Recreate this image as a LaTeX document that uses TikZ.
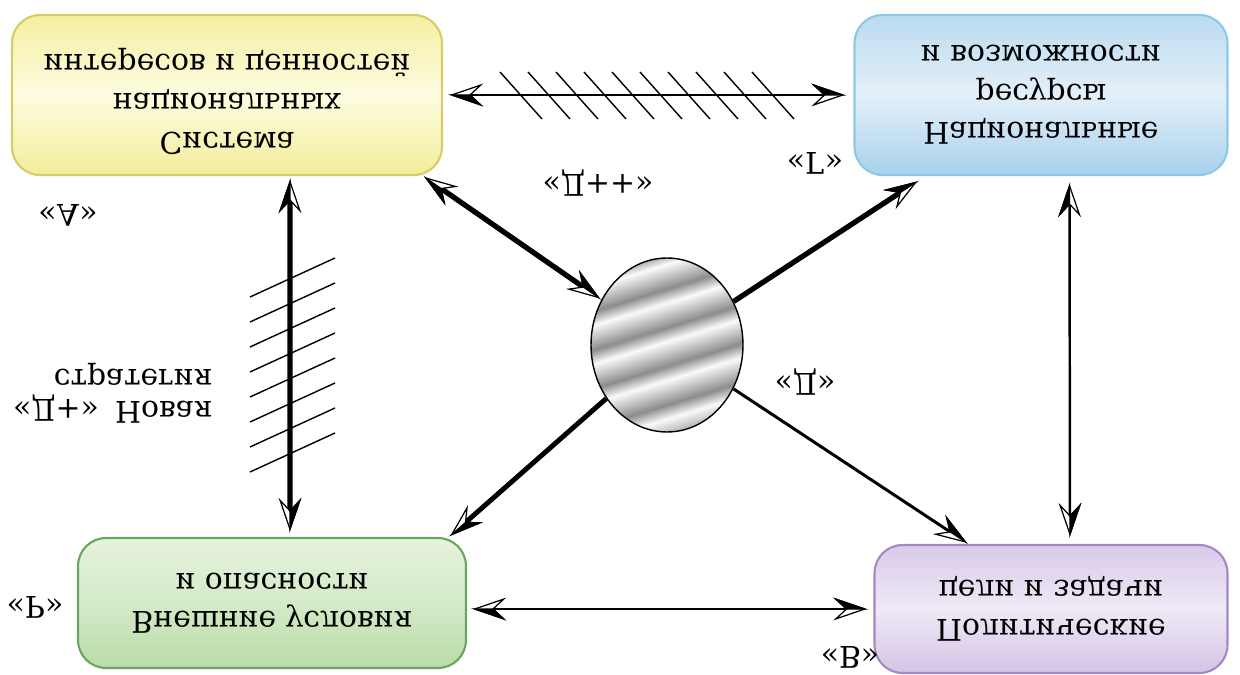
\documentclass[tikz,border=0pt]{standalone}
\usepackage{fontspec}
\setmainfont{DejaVu Serif}
\usetikzlibrary{arrows.meta,shapes.geometric}

\definecolor{yelline}{RGB}{214,205,105}
\definecolor{yeltop}{RGB}{244,239,160}
\definecolor{yelmid}{RGB}{253,252,224}
\definecolor{yelbot}{RGB}{242,237,155}
\definecolor{blueline}{RGB}{140,200,228}
\definecolor{bluetop}{RGB}{186,219,240}
\definecolor{bluemid}{RGB}{228,240,249}
\definecolor{bluebot}{RGB}{168,209,236}
\definecolor{greenline}{RGB}{105,165,95}
\definecolor{greentop}{RGB}{230,243,220}
\definecolor{greenmid}{RGB}{212,234,200}
\definecolor{greenbot}{RGB}{184,220,168}
\definecolor{violine}{RGB}{165,135,195}
\definecolor{viotop}{RGB}{216,202,233}
\definecolor{viomid}{RGB}{239,233,245}
\definecolor{viobot}{RGB}{211,196,229}
\definecolor{sdark}{RGB}{140,140,140}
\definecolor{slight}{RGB}{250,250,250}

\pgfdeclareverticalshading{waves}{100bp}{color(0bp)=(sdark); color(7bp)=(slight);
  color(11bp)=(sdark); color(18bp)=(slight); color(22bp)=(sdark); color(29bp)=(slight);
  color(33bp)=(sdark); color(40bp)=(slight); color(44bp)=(sdark); color(51bp)=(slight);
  color(55bp)=(sdark); color(62bp)=(slight); color(66bp)=(sdark); color(73bp)=(slight);
  color(77bp)=(sdark); color(84bp)=(slight); color(88bp)=(sdark); color(95bp)=(slight);
  color(100bp)=(sdark)}

\begin{document}
\begin{tikzpicture}[x=0.02cm,y=0.02cm,yscale=-1,
    every node/.append style={transform shape},
    >={Stealth[length=19pt,width=13pt,inset=7pt,line width=0.7pt,fill=white,sep=-19pt]
       Stealth[harpoon,length=19pt,width=13pt,inset=7pt,line width=0.7pt]},
    box/.style={rounded corners=0.56cm,line width=1.2pt,align=center,inner sep=0pt,
      font=\fontsize{17}{22}\selectfont},
    lbl/.style={inner sep=0pt,font=\fontsize{17}{18}\selectfont},
    hatch/.style={line width=0.8pt}]
  \useasboundingbox (0,0) rectangle (1240,675);

  % the four blocks (picture is drawn upside down)
  \node[box,draw=yelline,top color=yeltop,bottom color=yelbot,middle color=yelmid,
    minimum width=8.6cm,minimum height=3.2cm,text depth=11pt] (A) at (227,95)
    {Система\\национальных\\интересов и ценностей};
  \node[box,draw=blueline,top color=bluetop,bottom color=bluebot,middle color=bluemid,
    minimum width=7.46cm,minimum height=3.2cm] (G) at (1041,95)
    {Национальные\\ресурсы\\и возможности};
  \node[box,draw=greenline,top color=greentop,bottom color=greenbot,middle color=greenmid,
    minimum width=7.76cm,minimum height=2.6cm] (R) at (272,603)
    {Внешние условия\\и опасности};
  \node[box,draw=violine,top color=viotop,bottom color=viobot,middle color=viomid,
    minimum width=7.06cm,minimum height=2.56cm] (B) at (1051,609)
    {Политические\\цели и задачи};

  \node[ellipse,draw,line width=0.8pt,minimum width=3.04cm,minimum height=3.48cm,
    shading=waves,shading angle=17] (core) at (667,345) {};

  % labels
  \node[lbl] (la) at (68,215) {«А»};
  \node[lbl] (lg) at (815,163) {«Г»};
  \node[lbl] (ldpp) at (598,183) {«Д++»};
  \node[lbl] (ld) at (805,382) {«Д»};
  \node[lbl] (ldp) at (56,408) {«Д+»};
  \node[lbl,align=right,anchor=east] (lnew) at (213,393) {Новая\\стратегия};
  \node[lbl] (lr) at (35,607) {«Р»};
  \node[lbl] (lb) at (850,657) {«В»};

  % connectors
  \draw[<->,line width=1.7pt,shorten <=0.1cm,shorten >=0.14cm] (A) -- (G);
  \foreach \k in {0,...,9}
    \draw[hatch] (500+28*\k,72) -- (542+28*\k,119);
  \draw[<->,line width=3pt,shorten <=0.04cm,shorten >=0.08cm]
    ([xshift=1.26cm]A.north) -- ([xshift=0.36cm]R.south);
  \foreach \k in {0,...,7}
    \draw[hatch] (250,297+25*\k) -- (335,258+25*\k);
  \draw[<->,line width=3pt] ([xshift=-0.4cm]A.north east) -- (core);
  \draw[->,line width=3pt,shorten >=0.16cm] (core) -- ([xshift=1.44cm]G.north west);
  \draw[->,line width=2.8pt] (core) -- ([xshift=-0.36cm]R.south east);
  \draw[->,line width=1.7pt] (core) -- ([xshift=1.9cm]B.south west);
  \draw[<->,line width=1.4pt,shorten <=0.12cm,shorten >=0.12cm]
    ([xshift=0.57cm]G.north) -- ([xshift=0.38cm]B.south);
  \draw[<->,line width=1.7pt,shorten <=0.08cm,shorten >=0.1cm] (R.east |- B) -- (B.west);
\end{tikzpicture}
\end{document}
